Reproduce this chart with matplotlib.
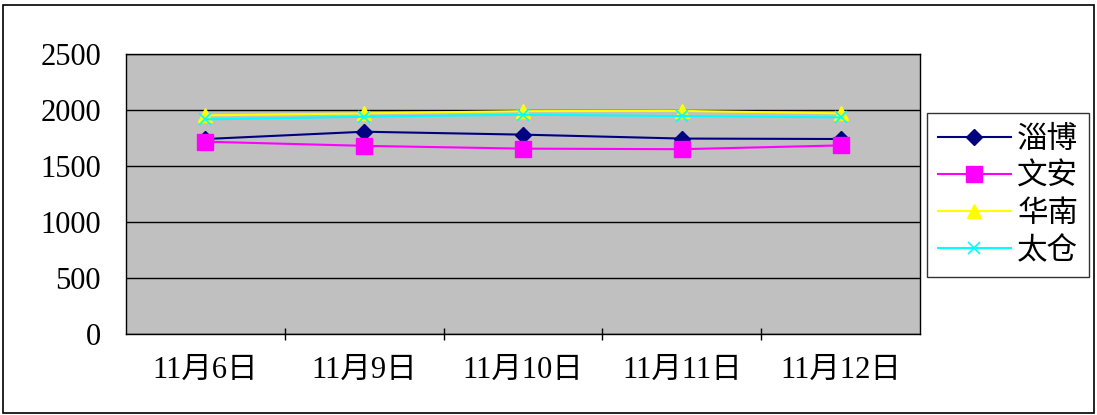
import matplotlib
matplotlib.use('Agg')
import matplotlib.pyplot as plt
from matplotlib.patches import Rectangle
import numpy as np

plt.rcParams['font.family'] = ['Liberation Serif', 'Noto Sans CJK SC', 'DejaVu Sans']

# valeurs
dates = ['11月6日', '11月9日', '11月10日', '11月11日', '11月12日']
zibo = [1741, 1806, 1780, 1745, 1741]
wenan = [1717, 1680, 1655, 1650, 1684]
huanan = [1952, 1970, 1990, 1992, 1970]
taicang = [1916, 1940, 1958, 1946, 1934]
names = ['淄博', '文安', '华南', '太仓']

x = np.arange(len(dates))

fig = plt.figure(figsize=(10.97, 4.15), dpi=100)
ax = fig.add_axes([126/1097, 1-334/415, (920-126)/1097, (334-54)/415])
ax.set_facecolor('#C0C0C0')

ax.plot(x, zibo, color='#000080', marker='D', markersize=8, lw=1.5, label=names[0], zorder=3)
ax.plot(x, wenan, color='#FF00FF', marker='s', markersize=12, lw=1.5, label=names[1], zorder=3)
ax.plot(x, huanan, color='#FFFF00', marker='^', markersize=10, lw=1.5, label=names[2], zorder=3)
ax.plot(x, taicang, color='#00FFFF', marker='x', markersize=8, mew=1.2, lw=1.5, label=names[3], zorder=3)

ax.set_xlim(-0.5, len(dates) - 0.5)
ax.set_ylim(0, 2500)
ax.set_yticks([0, 500, 1000, 1500, 2000, 2500])
ax.yaxis.grid(True, color='black', lw=1)
ax.set_axisbelow(True)
ax.tick_params(axis='y', length=0, labelsize=22, pad=18)

ax.set_xticks(x)
ax.set_xticklabels(dates)
ax.set_xticks(np.arange(0.5, len(dates) - 1, 1), minor=True)
ax.tick_params(axis='x', which='major', length=0, labelsize=22, pad=16)
ax.tick_params(axis='x', which='minor', length=8, direction='inout', width=1)

for s in ax.spines.values():
    s.set_color('black')
    s.set_linewidth(1)

leg = ax.legend(loc='upper left', bbox_to_anchor=(927/1097, 1-113/415),
                bbox_transform=fig.transFigure, borderaxespad=0,
                fontsize=22, handlelength=2.4, frameon=True, fancybox=False,
                labelspacing=0.2, borderpad=0.35, handletextpad=0.2)
leg.get_frame().set_edgecolor('black')
leg.get_frame().set_linewidth(1)
for t in leg.get_texts():
    t.set_fontfamily(['Noto Sans CJK SC'])

fig.patches.append(Rectangle((3/1097, 2/415), 1091/1097, 408/415, transform=fig.transFigure,
                             fill=False, edgecolor='black', lw=1.2))

fig.savefig('out.png', dpi=100)
